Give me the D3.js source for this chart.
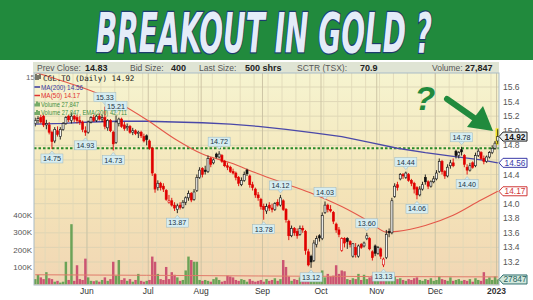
<!DOCTYPE html>
<html>
<head>
<meta charset="utf-8">
<script src="https://cdn.jsdelivr.net/npm/d3@7"></script>
<style>
  html, body { margin: 0; padding: 0; background: #fff; }
  #chart { width: 533px; height: 300px; }
</style>
</head>
<body>
<div id="chart"></div>
<script>
// ------- data (CGL.TO daily, May 2022 -> Jan 3 2023) -------
const opens = [
  15.10,15.14,15.18,15.20,15.08,15.08,14.98,14.86,15.00,14.92,
  15.02,15.10,15.20,15.14,15.20,15.18,15.14,15.12,15.00,14.98,
  15.12,15.18,15.14,15.20,15.16,15.18,15.04,15.14,14.98,14.84,
  15.10,15.16,15.08,15.04,15.06,14.98,15.00,14.96,14.98,14.92,
  14.93,14.86,14.76,14.40,14.22,14.28,14.24,14.18,14.02,14.04,
  13.98,13.92,13.98,13.95,14.02,14.08,14.14,14.06,14.18,14.36,
  14.48,14.46,14.44,14.62,14.56,14.68,14.64,14.66,14.58,14.52,
  14.50,14.44,14.42,14.36,14.26,14.32,14.46,14.38,14.26,14.20,
  14.12,14.06,13.96,13.90,13.98,13.94,13.92,14.02,13.98,14.04,
  13.92,13.76,13.56,13.66,13.62,13.58,13.66,13.62,13.34,13.28,
  13.22,13.44,13.56,13.52,13.88,13.98,13.92,13.88,13.72,13.64,
  13.36,13.52,13.52,13.48,13.28,13.40,13.28,13.44,13.42,13.52,
  13.52,13.34,13.42,13.32,13.38,13.16,13.26,13.62,13.60,14.10,
  14.26,14.34,14.40,14.36,14.40,14.32,14.28,14.22,14.12,14.20,
  14.36,14.30,14.24,14.30,14.34,14.44,14.58,14.44,14.38,14.52,
  14.56,14.72,14.66,14.74,14.66,14.50,14.46,14.56,14.52,14.66,
  14.70,14.62,14.58,14.64,14.70,14.76,14.86
];
const highs = [
  15.18,15.20,15.22,15.22,15.15,15.12,15.00,15.05,15.06,15.05,
  15.12,15.20,15.22,15.24,15.22,15.22,15.20,15.14,15.06,15.14,
  15.20,15.22,15.22,15.24,15.22,15.33,15.16,15.16,15.00,15.21,
  15.18,15.18,15.12,15.10,15.08,15.04,15.02,15.00,15.00,14.96,
  14.95,14.88,14.78,14.42,14.32,14.30,14.28,14.20,14.12,14.08,
  14.02,14.00,14.02,14.05,14.10,14.18,14.16,14.20,14.40,14.50,
  14.50,14.52,14.66,14.64,14.62,14.70,14.72,14.68,14.60,14.56,
  14.52,14.48,14.44,14.38,14.36,14.44,14.48,14.40,14.30,14.22,
  14.16,14.08,14.00,14.00,14.02,14.00,14.02,14.06,14.12,14.06,
  13.94,13.78,13.70,13.68,13.66,13.70,13.70,13.64,13.38,13.30,
  13.50,13.56,13.58,13.88,14.03,14.00,13.98,13.90,13.74,13.68,
  13.54,13.54,13.54,13.50,13.46,13.46,13.44,13.46,13.48,13.60,
  13.54,13.36,13.44,13.42,13.40,13.26,13.64,13.66,14.08,14.28,
  14.30,14.42,14.42,14.44,14.42,14.34,14.30,14.24,14.24,14.30,
  14.40,14.32,14.32,14.38,14.46,14.62,14.60,14.46,14.54,14.60,
  14.62,14.74,14.72,14.78,14.68,14.54,14.56,14.58,14.70,14.76,
  14.72,14.66,14.66,14.72,14.80,14.86,15.02
];
const lows = [
  15.06,15.10,15.10,15.05,15.02,14.95,14.75,14.83,14.92,14.88,
  15.00,15.08,15.12,15.10,15.12,15.10,15.08,14.98,14.93,14.96,
  15.10,15.12,15.12,15.14,15.12,15.02,15.00,14.98,14.73,14.82,
  15.06,15.04,15.00,15.00,14.96,14.94,14.94,14.90,14.90,14.84,
  14.80,14.74,14.38,14.15,14.18,14.18,14.16,14.04,14.00,13.96,
  13.90,13.87,13.92,13.93,13.98,14.04,14.02,14.04,14.16,14.34,
  14.36,14.40,14.42,14.50,14.54,14.62,14.62,14.56,14.50,14.46,
  14.42,14.40,14.32,14.24,14.24,14.30,14.38,14.22,14.18,14.08,
  14.04,13.92,13.78,13.86,13.90,13.88,13.90,13.96,13.96,13.90,
  13.74,13.50,13.54,13.56,13.52,13.56,13.60,13.30,13.14,13.12,
  13.20,13.40,13.48,13.50,13.86,13.88,13.88,13.72,13.60,13.54,
  13.34,13.40,13.38,13.40,13.26,13.26,13.26,13.38,13.40,13.50,
  13.36,13.22,13.28,13.30,13.24,13.13,13.24,13.54,13.58,14.08,
  14.18,14.32,14.34,14.34,14.30,14.24,14.14,14.06,14.10,14.18,
  14.26,14.20,14.22,14.28,14.32,14.42,14.40,14.34,14.36,14.48,
  14.50,14.62,14.62,14.66,14.50,14.40,14.44,14.48,14.50,14.64,
  14.60,14.54,14.56,14.62,14.68,14.74,14.82
];
const closes = [
  15.14,15.17,15.12,15.08,15.10,14.98,14.85,15.02,14.95,15.02,
  15.10,15.18,15.15,15.20,15.16,15.14,15.12,15.02,14.98,15.12,
  15.18,15.14,15.20,15.16,15.18,15.06,15.14,15.00,14.82,15.12,
  15.16,15.06,15.03,15.06,14.98,15.00,14.96,14.98,14.93,14.86,
  14.88,14.76,14.42,14.20,14.28,14.22,14.20,14.06,14.04,13.98,
  13.94,13.97,13.95,14.02,14.08,14.14,14.05,14.16,14.36,14.46,
  14.40,14.44,14.62,14.54,14.60,14.64,14.68,14.58,14.52,14.50,
  14.44,14.42,14.36,14.28,14.32,14.40,14.41,14.26,14.22,14.12,
  14.08,13.96,13.92,13.96,13.94,13.92,14.00,13.98,14.08,13.92,
  13.78,13.56,13.66,13.60,13.56,13.66,13.64,13.36,13.16,13.20,
  13.46,13.52,13.53,13.84,13.98,13.92,13.90,13.76,13.64,13.58,
  13.52,13.46,13.48,13.44,13.45,13.30,13.42,13.40,13.46,13.56,
  13.38,13.26,13.32,13.40,13.28,13.24,13.58,13.60,14.04,14.24,
  14.22,14.40,14.38,14.42,14.32,14.28,14.20,14.12,14.20,14.26,
  14.30,14.24,14.30,14.34,14.42,14.58,14.44,14.38,14.50,14.56,
  14.52,14.66,14.70,14.71,14.54,14.46,14.52,14.50,14.66,14.72,
  14.62,14.58,14.64,14.70,14.76,14.83,14.92
];
// volume in thousands of shares
const volumes = [
  30,55,40,30,70,35,30,15,20,10,
  15,130,25,347,20,110,30,25,148,40,
  20,18,22,15,25,40,20,30,130,50,
  140,25,35,20,30,15,25,60,20,15,
  20,25,160,130,60,30,25,100,30,70,
  55,40,20,25,80,160,140,130,130,25,
  20,25,20,15,30,40,25,15,20,50,
  45,40,25,20,30,25,15,30,20,15,
  20,25,15,30,20,25,35,20,30,140,
  100,45,20,30,25,40,20,35,45,30,
  40,25,20,80,40,60,45,50,110,60,
  80,75,30,25,35,30,60,25,55,30,
  40,50,30,25,35,45,40,25,60,45,
  30,35,25,20,30,25,35,40,25,20,
  30,25,35,20,25,45,30,25,20,40,
  20,25,30,20,25,20,30,15,35,25,
  20,70,30,40,25,45,27.8
];

// overlays (sampled at a few trading-day indexes)
const ma200Idx = [0,10,20,30,40,50,60,70,80,90,100,110,120,130,140,150,160,166];
const ma200Val = [15.09,15.10,15.12,15.13,15.13,15.12,15.11,15.09,15.06,15.02,14.97,14.92,14.84,14.76,14.70,14.65,14.60,14.56];
const ma50Idx = [0,10,20,30,40,50,60,70,80,90,100,110,120,126,130,140,150,160,166];
const ma50Val = [15.80,15.68,15.55,15.38,15.15,14.89,14.68,14.56,14.41,14.27,14.13,13.96,13.75,13.61,13.62,13.70,13.84,14.05,14.17];
const volEmaIdx = [0,40,80,120,166];
const volEmaVal = [55,52,48,45,42.7];
const resistance = 14.76;

// price annotations
const annIdx  = [6,18,28,25,29,66,51,88,82,104,119,99,125,133,137,153,155];
const annVal  = [14.75,14.93,14.73,15.33,15.21,14.72,13.87,14.12,13.78,14.03,13.60,13.12,13.13,14.44,14.06,14.78,14.40];
const annSide = ["l","l","l","h","h","h","l","h","l","h","h","l","l","h","l","h","l"];

// axes
const monthLabels = ["Jun","Jul","Aug","Sep","Oct","Nov","Dec","2023"];
const monthIdx = [19,41,60,82,103,123,144,166];
const priceTicks = [13.2,13.4,13.6,13.8,14.0,14.2,14.4,14.6,14.8,15.0,15.2,15.4,15.6,15.8];
const priceTickLabels = [13.2,13.4,13.6,13.8,14.0,14.4,14.8,15.0,15.2,15.4,15.6]; // 14.2 / 14.6 sit under the value flags
const volTicks = [100,200,300,400];
const volTickLabels = ["100K","200K","300K","400K"];

// header
const infoLabels = ["Prev Close:","Bid Size:","Last Size:","SCTR (TSX):","Volume:"];
const infoValues = ["14.83","400","500 shrs","70.9","27,847"];

// ------- drawing -------
const W = 533, H = 300;
const PL = 34, PR = 499, PT = 73, PB = 285;
const GREEN = "#218a3d";
const SANS = "'Liberation Sans', Arial, sans-serif";

const svg = d3.select("#chart").append("svg")
  .attr("width", W).attr("height", H)
  .style("display", "block");

const defs = svg.append("defs");
const grad = defs.append("linearGradient").attr("id", "bg").attr("x1", 0).attr("x2", 0).attr("y1", 0).attr("y2", 1);
grad.append("stop").attr("offset", "0%").attr("stop-color", "#f6f4d0");
grad.append("stop").attr("offset", "55%").attr("stop-color", "#f4e4b8");
grad.append("stop").attr("offset", "100%").attr("stop-color", "#f1d6b4");
defs.append("clipPath").attr("id", "plotclip")
  .append("rect").attr("x", PL).attr("y", PT).attr("width", PR - PL).attr("height", PB - PT);

// banner
svg.append("rect").attr("x", 0).attr("y", 0).attr("width", W).attr("height", 60).attr("fill", GREEN);
svg.append("text")
  .attr("x", 264).attr("y", 52)
  .attr("text-anchor", "middle")
  .attr("font-family", "'Liberation Sans Narrow','DejaVu Sans Condensed','Liberation Sans',sans-serif")
  .attr("font-weight", 700).attr("font-style", "italic")
  .attr("font-size", 55)
  .attr("textLength", 336).attr("lengthAdjust", "spacingAndGlyphs")
  .attr("fill", "#e4ecf8").attr("stroke", "#1c3c6e").attr("stroke-width", 2.5)
  .attr("paint-order", "stroke")
  .text("BREAKOUT IN GOLD ?");

// info bar
svg.append("rect").attr("x", PL - 1).attr("y", 62).attr("width", PR - PL + 1).attr("height", 11).attr("fill", "#dfe4d4");
const infoLabelX = [37, 130, 199, 297, 432];
const infoValueX = [85, 171, 245, 360, 465];
infoLabels.forEach((t, i) => {
  svg.append("text").attr("x", infoLabelX[i]).attr("y", 70.5)
    .attr("font-family", SANS).attr("font-size", 8.5).attr("fill", "#555").text(t);
  svg.append("text").attr("x", infoValueX[i]).attr("y", 70.5)
    .attr("font-family", SANS).attr("font-size", 9).attr("font-weight", 700).attr("fill", "#222").text(infoValues[i]);
});

// scales
const N = closes.length;
const x = d3.scaleBand().domain(d3.range(N)).range([PL, PR]).paddingInner(0.12);
const xc = i => x(i) + x.bandwidth() / 2;
const y = d3.scaleLinear().domain([13.2, 15.6]).range([262, 87]);
const yv = d3.scaleLinear().domain([0, 400]).range([284.3, 215]);

// plot background + grid
svg.append("rect").attr("x", PL).attr("y", PT).attr("width", PR - PL).attr("height", PB - PT)
  .attr("fill", "url(#bg)");
const grid = svg.append("g").attr("clip-path", "url(#plotclip)");
grid.selectAll("line.h").data(priceTicks).enter().append("line")
  .attr("x1", PL).attr("x2", PR).attr("y1", d => y(d)).attr("y2", d => y(d))
  .attr("stroke", "#d9d2b2").attr("stroke-width", 0.8);
grid.selectAll("line.w").data(d3.range(N).filter(i => i % 5 === 4)).enter().append("line")
  .attr("x1", d => x(d)).attr("x2", d => x(d)).attr("y1", PT).attr("y2", PB)
  .attr("stroke", "#e0d8b8").attr("stroke-width", 0.8);
grid.selectAll("line.m").data(monthIdx).enter().append("line")
  .attr("x1", d => x(d)).attr("x2", d => x(d)).attr("y1", PT).attr("y2", PB)
  .attr("stroke", "#c9c1a2").attr("stroke-width", 0.9);

const plot = svg.append("g").attr("clip-path", "url(#plotclip)");

// volume bars
plot.selectAll("rect.vol").data(volumes).enter().append("rect")
  .attr("x", (d, i) => x(i)).attr("width", x.bandwidth())
  .attr("y", d => yv(d)).attr("height", d => yv(0) - yv(d))
  .attr("fill", (d, i) => (i === 0 || closes[i] >= closes[i - 1]) ? "#5c9c4c" : "#c8466a")
  .attr("opacity", 0.9);

// volume EMA
plot.append("path")
  .datum(volEmaIdx.map((d, k) => [d, volEmaVal[k]]))
  .attr("fill", "none").attr("stroke", "#e07a6a").attr("stroke-width", 1)
  .attr("d", d3.line().x(d => xc(d[0])).y(d => yv(d[1])));

// resistance line
plot.append("line")
  .attr("x1", PL).attr("x2", PR).attr("y1", y(resistance)).attr("y2", y(resistance))
  .attr("stroke", "#2a8a2a").attr("stroke-width", 1.8).attr("stroke-dasharray", "2.5,2");

// moving averages
plot.append("path")
  .datum(ma200Idx.map((d, k) => [d, ma200Val[k]]))
  .attr("fill", "none").attr("stroke", "#4a48a8").attr("stroke-width", 1.3)
  .attr("d", d3.line().x(d => xc(d[0])).y(d => y(d[1])));
plot.append("path")
  .datum(ma50Idx.map((d, k) => [d, ma50Val[k]]))
  .attr("fill", "none").attr("stroke", "#e4584a").attr("stroke-width", 1.1)
  .attr("d", d3.line().curve(d3.curveMonotoneX).x(d => xc(d[0])).y(d => y(d[1])));

// last bar highlight
plot.append("rect")
  .attr("x", x(N - 1) - 1).attr("width", x.bandwidth() + 2)
  .attr("y", y(highs[N - 1]) - 1).attr("height", y(lows[N - 1]) - y(highs[N - 1]) + 2)
  .attr("fill", "#f3e11e");

// candles
const candles = plot.selectAll("g.c").data(closes).enter().append("g");
const candleColor = i => (i === 0 ? closes[0] >= opens[0] : closes[i] >= closes[i - 1]) ? "#111" : "#e00000";
candles.append("line")
  .attr("x1", (d, i) => xc(i)).attr("x2", (d, i) => xc(i))
  .attr("y1", (d, i) => y(highs[i])).attr("y2", (d, i) => y(lows[i]))
  .attr("stroke", (d, i) => candleColor(i)).attr("stroke-width", 0.9);
candles.append("rect")
  .attr("x", (d, i) => x(i) + 0.2).attr("width", x.bandwidth() - 0.4)
  .attr("y", (d, i) => y(Math.max(opens[i], closes[i])))
  .attr("height", (d, i) => Math.max(1, Math.abs(y(opens[i]) - y(closes[i]))))
  .attr("fill", (d, i) => closes[i] > opens[i] ? "#f2f2ee" : candleColor(i))
  .attr("stroke", (d, i) => candleColor(i)).attr("stroke-width", 0.6);

// price annotations
const ann = svg.append("g");
annIdx.forEach((idx, k) => {
  const cx = xc(idx);
  const isHigh = annSide[k] === "h";
  const py = isHigh ? y(annVal[k]) - 2 : y(annVal[k]) + 2;
  const by = isHigh ? py - 12 : py + 3;
  const g = ann.append("g");
  g.append("path")
    .attr("d", isHigh
      ? `M${cx - 3},${by + 8.5} L${cx},${py} L${cx + 3},${by + 8.5}Z`
      : `M${cx - 3},${by + 0.5} L${cx},${py} L${cx + 3},${by + 0.5}Z`)
    .attr("fill", "#d6edf1").attr("stroke", "#9bb7c0").attr("stroke-width", 0.5);
  g.append("rect")
    .attr("x", cx - 11).attr("y", by).attr("width", 22).attr("height", 9)
    .attr("fill", "#d6edf1").attr("stroke", "#9bb7c0").attr("stroke-width", 0.5);
  g.append("text")
    .attr("x", cx).attr("y", by + 7.2).attr("text-anchor", "middle")
    .attr("font-family", SANS).attr("font-size", 7.2).attr("fill", "#234")
    .text(annVal[k].toFixed(2));
});

// legend
const leg = svg.append("g");
leg.append("text").attr("x", 26).attr("y", 80).attr("font-family", SANS).attr("font-size", 8).attr("fill", "#666").text("15");
leg.append("rect").attr("x", 35).attr("y", 74).attr("width", 6).attr("height", 6).attr("fill", "#f5f2d0");
leg.append("path").attr("d", "M36,74v6M38,75v5M40,74v5").attr("stroke", "#222").attr("stroke-width", 1.2);
leg.append("text").attr("x", 43).attr("y", 80.5)
  .attr("font-family", "'DejaVu Sans Mono', monospace").attr("font-size", 7.6).attr("fill", "#222")
  .text("CGL.TO (Daily) 14.92");
const legRows = [
  { t: "MA(200) 14.56", c: "#3a3aa0", y: 89.5, icon: "line", w: 42 },
  { t: "MA(50) 14.17", c: "#e03030", y: 98, icon: "line", w: 39 },
  { t: "Volume 27,847", c: "#3f8f3f", y: 106.5, icon: "bar", w: 38 },
  { t: "Volume 27,847, EMA(200) 42,711", c: "#3f8f3f", y: 115, icon: "bar", w: 86 }
];
legRows.forEach(r => {
  if (r.icon === "line") {
    leg.append("line").attr("x1", 34).attr("x2", 40).attr("y1", r.y - 2.5).attr("y2", r.y - 2.5)
      .attr("stroke", r.c).attr("stroke-width", 1.5);
  } else {
    leg.append("path").attr("d", `M35,${r.y}v-3M37,${r.y}v-5M39,${r.y}v-4`)
      .attr("stroke", r.c).attr("stroke-width", 1.4);
  }
  leg.append("text").attr("x", 41).attr("y", r.y)
    .attr("font-family", SANS).attr("font-size", 7.4).attr("fill", r.c)
    .attr("textLength", r.w).attr("lengthAdjust", "spacingAndGlyphs")
    .text(r.t);
});

// question mark + arrow
svg.append("text").attr("x", 425).attr("y", 110).attr("text-anchor", "middle")
  .attr("font-family", SANS).attr("font-weight", 700).attr("font-style", "italic")
  .attr("font-size", 34).attr("fill", GREEN).text("?");
svg.append("line").attr("x1", 447).attr("y1", 99).attr("x2", 477).attr("y2", 120)
  .attr("stroke", GREEN).attr("stroke-width", 6).attr("stroke-linecap", "round");
svg.append("path").attr("d", "M493,131 L467,127 L483,106 Z").attr("fill", GREEN);

// plot frame
svg.append("rect").attr("x", PL).attr("y", PT).attr("width", PR - PL).attr("height", PB - PT)
  .attr("fill", "none").attr("stroke", "#a9bcc6").attr("stroke-width", 1);

// right price axis
svg.selectAll("text.pt").data(priceTickLabels).enter().append("text")
  .attr("x", 503).attr("y", d => y(d) + 3)
  .attr("font-family", SANS).attr("font-size", 8.5).attr("fill", "#555")
  .text(d => d.toFixed(1));

// value flags on the right
const flag = (yy, stroke, fill, color, bold, label) => {
  const g = svg.append("g");
  g.append("path")
    .attr("d", `M499,${yy} L503,${yy - 4.5} L527,${yy - 4.5} L527,${yy + 4.5} L503,${yy + 4.5} Z`)
    .attr("fill", fill).attr("stroke", stroke).attr("stroke-width", 1);
  g.append("text").attr("x", 515).attr("y", yy + 3).attr("text-anchor", "middle")
    .attr("font-family", SANS).attr("font-size", 8.3).attr("font-weight", bold ? 700 : 400)
    .attr("fill", color).text(label);
};
flag(y(closes[N - 1]), "#222", "#e9eef0", "#111", true, closes[N - 1].toFixed(2));
flag(y(ma200Val[ma200Val.length - 1]), "#3a3aa8", "#ffffff", "#3a3aa8", false, ma200Val[ma200Val.length - 1].toFixed(2));
flag(y(ma50Val[ma50Val.length - 1]), "#d03838", "#ffffff", "#d03838", false, ma50Val[ma50Val.length - 1].toFixed(2));
flag(yv(volumes[N - 1]), "#2f6f6f", "#d2e8dc", "#2a5f5f", false, "27847");

// left volume axis
svg.selectAll("text.vt").data(volTicks).enter().append("text")
  .attr("x", 32).attr("y", d => yv(d) + 3).attr("text-anchor", "end")
  .attr("font-family", SANS).attr("font-size", 8).attr("fill", "#555")
  .text((d, i) => volTickLabels[i]);

// month axis
svg.selectAll("text.mt").data(monthIdx).enter().append("text")
  .attr("x", d => x(d)).attr("y", 294).attr("text-anchor", "middle")
  .attr("font-family", SANS).attr("font-size", 8.5)
  .attr("font-weight", (d, i) => monthLabels[i] === "2023" ? 700 : 400)
  .attr("fill", "#333")
  .text((d, i) => monthLabels[i]);
</script>
</body>
</html>
